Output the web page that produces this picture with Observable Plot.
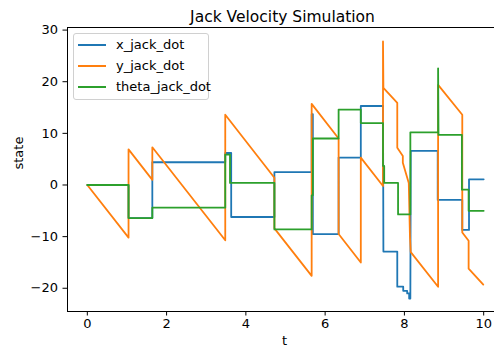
<!DOCTYPE html>
<html>
<head>
<meta charset="utf-8">
<script src="https://cdn.jsdelivr.net/npm/d3@7"></script>
<script src="https://cdn.jsdelivr.net/npm/@observablehq/plot@0.6"></script>
<style>
  body { margin: 0; background: white; }
  #wrap { position: relative; width: 494px; height: 354px; overflow: hidden; font-family: "DejaVu Sans", sans-serif; }
  #legend { position: absolute; left: 73px; top: 33px; width: 134px; height: 65px; border: 1px solid #d0d0d0; border-radius: 3px; background: rgba(255,255,255,0.8); }
  .row { position: absolute; left: 0; height: 21px; width: 134px; }
  .row .sw { position: absolute; left: 4px; top: 9.5px; width: 28px; height: 2px; }
  .row .lb { position: absolute; left: 42px; top: 1px; font-size: 13px; line-height: 19px; color: #000; white-space: nowrap; }
</style>
</head>
<body>
<div id="wrap"></div>
<script>
const title = "Jack Velocity Simulation";
const xLabel = "t";
const yLabel = "state";
const seriesNames = ["x_jack_dot", "y_jack_dot", "theta_jack_dot"];
const seriesColors = ["#1f77b4", "#ff7f0e", "#2ca02c"];
const xTicks = [0, 2, 4, 6, 8, 10];
const yTicks = [-20, -10, 0, 10, 20, 30];

// x_jack_dot (step-like)
const xJackT = [0,1.04,1.04,1.64,1.64,3.48,3.48,3.63,3.63,4.72,4.72,5.66,5.66,5.69,5.69,6.34,6.34,6.9,6.9,7.46,7.47,7.82,7.82,7.97,7.97,8.07,8.07,8.12,8.12,8.15,8.16,8.84,8.84,9.46,9.46,9.63,9.63,10];
const xJackV = [0,0,-6.4,-6.4,4.4,4.4,6.2,6.2,-6.2,-6.2,2.5,2.5,13.7,13.7,-9.5,-9.5,5.3,5.3,15.3,15.3,-12.9,-12.9,-19.7,-19.7,-20.5,-20.5,-21,-21,-22,-22,6.6,6.6,-2.9,-2.9,-8.7,-8.7,1.1,1.1];

// y_jack_dot (falling segments with jumps)
const yJackT = [0,1.04,1.04,1.64,1.64,3.48,3.48,4.72,4.72,5.66,5.66,6.34,6.34,6.9,6.9,7.46,7.46,7.47,7.82,7.82,7.96,7.96,8.11,8.14,8.16,8.85,8.85,9.46,9.46,9.62,9.62,9.99];
const yJackV = [0,-10.2,6.9,1.0,7.3,-10.7,13.6,1.4,-8.4,-17.6,15.7,9.0,-9.5,-15.0,5.3,-0.2,27.8,18.8,15.9,7.2,5.6,4.3,0.4,-10,-13,-19.7,19.4,13.6,-9.2,-10.8,-16.2,-19.3];

// theta_jack_dot (step-like)
const thJackT = [0,1.04,1.04,1.64,1.64,3.48,3.48,3.6,3.6,4.72,4.72,5.66,5.66,5.69,5.69,6.34,6.34,6.9,6.9,7.46,7.46,7.49,7.49,7.84,7.84,8.15,8.15,8.85,8.85,8.86,9.45,9.45,9.62,9.62,10];
const thJackV = [0,0,-6.4,-6.4,-4.4,-4.4,5.9,5.9,0.4,0.4,-8.6,-8.6,-2,-2,9.0,9.0,14.6,14.6,12.0,12.0,3.7,3.7,0.4,0.4,-5.7,-5.7,10.2,10.2,22.6,9.7,9.7,-0.9,-0.9,-5.0,-5.0];

const seriesT = [xJackT, yJackT, thJackT];
const seriesV = [xJackV, yJackV, thJackV];
const rows = seriesNames.flatMap((s, i) => seriesT[i].map((t, j) => ({t, v: seriesV[i][j], s})));

const fmt = d3.format("d");
const chart = Plot.plot({
  width: 494, height: 354,
  marginLeft: 67, marginRight: -9, marginTop: 27, marginBottom: 43,
  style: {fontFamily: "DejaVu Sans", fontSize: "13px", background: "white", color: "black", overflow: "hidden"},
  x: {domain: [-0.5, 10.5], ticks: xTicks, tickFormat: fmt, label: null, tickSize: 4.5, tickPadding: 3},
  y: {domain: [-24.5, 30.5], ticks: yTicks, tickFormat: fmt, label: null, tickSize: 4.5, tickPadding: 5},
  color: {domain: seriesNames, range: seriesColors},
  marks: [
    Plot.line(rows, {x: "t", y: "v", z: "s", stroke: "s", strokeWidth: 1.8, strokeLinejoin: "round"}),
    Plot.frame({stroke: "black", strokeWidth: 1}),
    Plot.text([title], {frameAnchor: "top", dy: -17, dx: -3, fontSize: 15.5, fill: "black"}),
    Plot.text([xLabel], {frameAnchor: "bottom", dy: 33, dx: -1, fontSize: 13, fill: "black"}),
    Plot.text([yLabel], {frameAnchor: "left", dx: -49, rotate: -90, fontSize: 13, fill: "black"})
  ]
});
const wrap = document.getElementById("wrap");
wrap.appendChild(chart);

const legend = document.createElement("div");
legend.id = "legend";
seriesNames.forEach((n, i) => {
  const r = document.createElement("div");
  r.className = "row";
  r.style.top = (i * 21) + "px";
  const sw = document.createElement("div");
  sw.className = "sw";
  sw.style.background = seriesColors[i];
  const lb = document.createElement("div");
  lb.className = "lb";
  lb.textContent = n;
  r.appendChild(sw); r.appendChild(lb);
  legend.appendChild(r);
});
wrap.appendChild(legend);
</script>
</body>
</html>
